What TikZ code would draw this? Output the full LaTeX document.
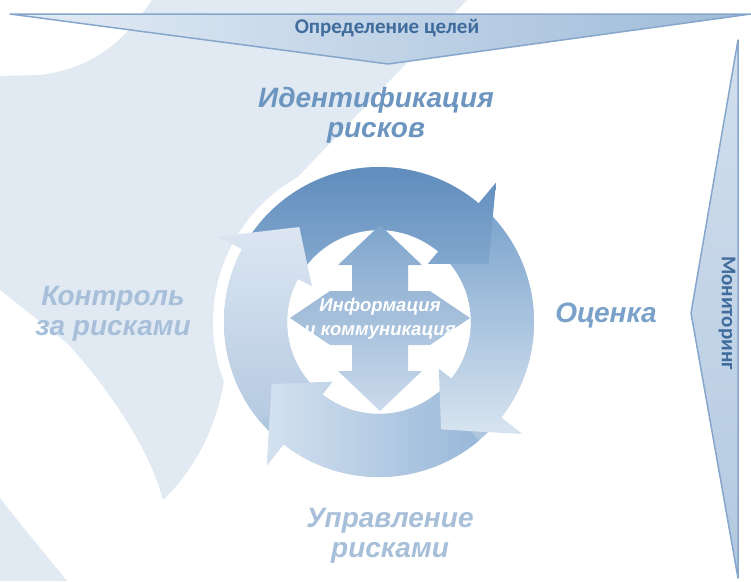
\documentclass[tikz,border=0pt]{standalone}
\usepackage{fontspec}
\setmainfont{Liberation Sans}
\newfontfamily\calfont{Carlito}
\usetikzlibrary{calc}
\definecolor{pale}{HTML}{E1EAF3}
\definecolor{bline}{HTML}{86A7CB}
\definecolor{btext}{HTML}{3F6C9D}
\definecolor{bannerA}{HTML}{E4ECF5}
\definecolor{bannerB}{HTML}{9EBBD9}
\definecolor{bannerC}{HTML}{D2DFED}
\definecolor{bannerD}{HTML}{B3C9E1}
\definecolor{ringc}{HTML}{AFC6DF}
\definecolor{labA}{HTML}{6C95C0}
\definecolor{labB}{HTML}{7AA1C9}
\definecolor{labC}{HTML}{A7BFD9}
\definecolor{taA}{HTML}{5F8CBC}
\definecolor{taB}{HTML}{85AAD0}
\definecolor{raA}{HTML}{7CA4CD}
\definecolor{raB}{HTML}{D8E4F0}
\definecolor{baA}{HTML}{98B8D9}
\definecolor{baB}{HTML}{D4E1EF}
\definecolor{laA}{HTML}{B5CAE1}
\definecolor{laB}{HTML}{DCE6F2}
\definecolor{qA}{HTML}{7FA5CC}
\definecolor{qB}{HTML}{CBDAEB}
\newcommand{\ringarrow}[4]{%
  \path[#4] ($(C)+(#1:155)$) arc[start angle=#1, end angle=#2, radius=155]
    -- ($(C)+(#2:182)$) -- ($(C)+(#3:124)$) -- ($(C)+(#2:76)$)
    -- ($(C)+(#2:92)$) arc[start angle=#2, end angle=#1, radius=92] -- cycle;}
\begin{document}
\begin{tikzpicture}[x=1pt,y=-1pt,
  lbl/.style={font=\bfseries\itshape\fontsize{28}{30}\selectfont, align=center, inner sep=0pt},
  banner/.style={draw=bline, line width=1.5pt, line join=round},
  btxt/.style={font=\calfont\bfseries\fontsize{21}{24}\selectfont, text=btext, inner sep=0pt},
  toparrow/.style={top color=taA, bottom color=taB},
  rightarrow/.style={top color=raA, bottom color=raB},
  bottomarrow/.style={right color=baA, left color=baB},
  leftarrow/.style={bottom color=laA, top color=laB},
  quad/.style={top color=qA, bottom color=qB},
]
\useasboundingbox (0,0) rectangle (751,581);
\fill[white] (0,0) rectangle (751,581);
% pale background shapes
\fill[pale] (152,0) .. controls (125,40) and (95,68) .. (40,75) -- (0,76) -- (0,290)
  -- (67,343) .. controls (110,390) and (150,450) .. (163,500)
  .. controls (205,460) and (228,400) .. (227,340) -- (232,250) -- (290,185) -- (467,0) -- cycle;
\fill[pale] (0,498) .. controls (25,530) and (50,560) .. (67,581) -- (0,581) -- cycle;
% banners
\path[banner, left color=bannerA, right color=bannerB] (10,14) -- (751,14) -- (388,64) -- cycle;
\node[btxt] (goal) at (387,28) {Определение целей};
\path[banner, top color=bannerC, bottom color=bannerD] (738,40) -- (738,578) -- (691,313) -- cycle;
\node[btxt, rotate=-90] (mon) at (727,313) {Мониторинг};
% cycle
\coordinate (C) at (379,322);
\fill[white] (C) circle[radius=166];
\fill[ringc, even odd rule] (C) circle[radius=155] (C) circle[radius=92];
\ringarrow{50}{128}{150}{bottomarrow}
\ringarrow{-45}{38}{60}{rightarrow}
\ringarrow{-148}{-50}{-28}{toparrow}
\ringarrow{140}{208}{230}{leftarrow}
\begin{scope}
  \clip (C) -- ($(C)+(115:240)$) -- ($(C)+(140:240)$) -- ($(C)+(160:240)$) -- cycle;
  \ringarrow{50}{128}{150}{bottomarrow}
\end{scope}
% four-way arrow
\coordinate (Q) at (380,318);
\path[quad, shift={(Q)}] (0,-93) -- (42,-53) -- (28,-53) -- (28,-27) -- (50,-27) -- (90,0)
  -- (50,27) -- (28,27) -- (28,53) -- (42,53) -- (0,93) -- (-42,53) -- (-28,53)
  -- (-28,27) -- (-50,27) -- (-90,0) -- (-50,-27) -- (-28,-27) -- (-28,-53) -- (-42,-53) -- cycle;
\node[font=\bfseries\itshape\fontsize{18.5}{24}\selectfont, text=white, align=center, inner sep=0pt] (info) at (380,319) {Информация\\и коммуникация};
% labels
\node[lbl, text=labA] (ident) at (376,115) {Идентификация\\рисков};
\node[lbl, text=labB] (eval) at (606,316) {Оценка};
\node[lbl, text=labC] (ctrl) at (113,314) {Контроль\\за рисками};
\node[lbl, text=labC] (mgmt) at (390,536) {Управление\\рисками};
\end{tikzpicture}
\end{document}
